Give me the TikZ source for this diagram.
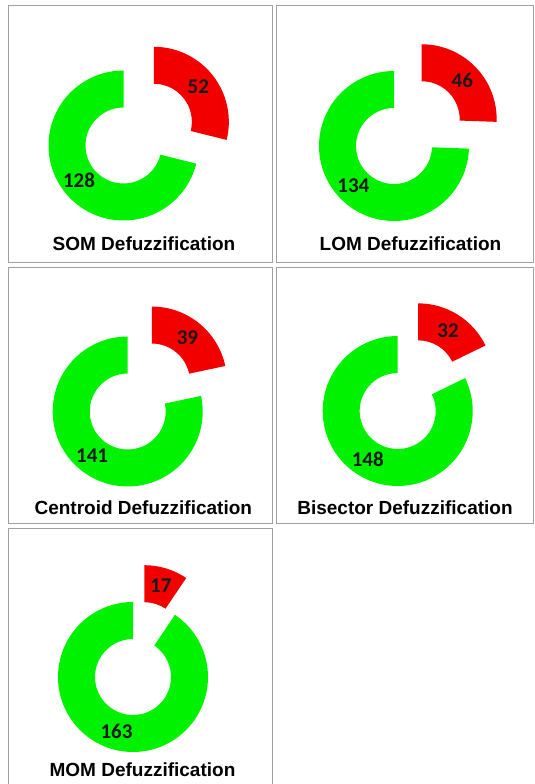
\documentclass[tikz,border=0pt]{standalone}
\usepackage{fontspec}
\newfontfamily\titlefont{Liberation Sans}
\newfontfamily\valuefont{Carlito}
\usetikzlibrary{positioning}
\definecolor{ringgreen}{RGB}{0,242,0}
\definecolor{slicered}{RGB}{242,0,0}
\definecolor{framegray}{RGB}{160,160,160}
\tikzset{
        panel/.style={draw=framegray, line width=1pt},
        greenpart/.style={fill=ringgreen},
        redpart/.style={fill=slicered},
        value/.style={font=\valuefont\bfseries\fontsize{21}{21}\selectfont, text=black!90, inner sep=0pt},
        caption/.style={font=\titlefont\bfseries\fontsize{19}{20}\selectfont, anchor=base, inner sep=0pt},
    }
\begin{document}
\begin{tikzpicture}[x=1pt, y=1pt]
                \useasboundingbox (0,0) rectangle (535,784);
                % frames, measured from the top
                \foreach \xa/\ya/\xb/\yb in {8/6/272.5/263, 276/6/533.5/263, 8/268/272.5/523.5, 276/268/533.5/523.5, 8/529/272.5/790}
                {
                    \draw[panel] (\xa,{784-\ya}) rectangle (\xb,{784-\yb});
                }
                % rings: centre x / centre y / green value / caption / caption x / caption baseline
                \foreach \cx/\cy/\g/\name/\tx/\ty [count=\i] in {
                    123.5/145.5/128/SOM Defuzzification/144/251,
                    394/146/134/LOM Defuzzification/410.5/251,
                    127.7/411.5/141/Centroid Defuzzification/143.3/515,
                    397.7/411/148/Bisector Defuzzification/405/515,
                    133/677/163/MOM Defuzzification/142.5/777}
                {
                    \pgfmathsetmacro{\gend}{90+2*\g}
                    \pgfmathsetmacro{\gmid}{90+\g}
                    \pgfmathsetmacro{\rmid}{\gend+180-\g}
                    \pgfmathtruncatemacro{\rv}{180-\g}
                    \begin{scope}[shift={(\cx,{784-\cy})}]
                        \fill[greenpart] (90:75pt) arc[start angle=90, end angle=\gend, radius=75pt]
                            -- (\gend:38pt) arc[start angle=\gend, end angle=90, radius=38pt] -- cycle;
                        \node[value] (g\i) at (\gmid:56.5pt) {\g};
                        \begin{scope}[shift={(\rmid:38.5pt)}]
                            \fill[redpart] (\gend:75pt) arc[start angle=\gend, end angle=450, radius=75pt]
                                -- (90:38pt) arc[start angle=450, end angle=\gend, radius=38pt] -- cycle;
                            \node[value] (r\i) at (\rmid:56.5pt) {\rv};
                        \end{scope}
                    \end{scope}
                    \node[caption] (t\i) at (\tx,{784-\ty}) {\name};
                }
            \end{tikzpicture}
\end{document}
